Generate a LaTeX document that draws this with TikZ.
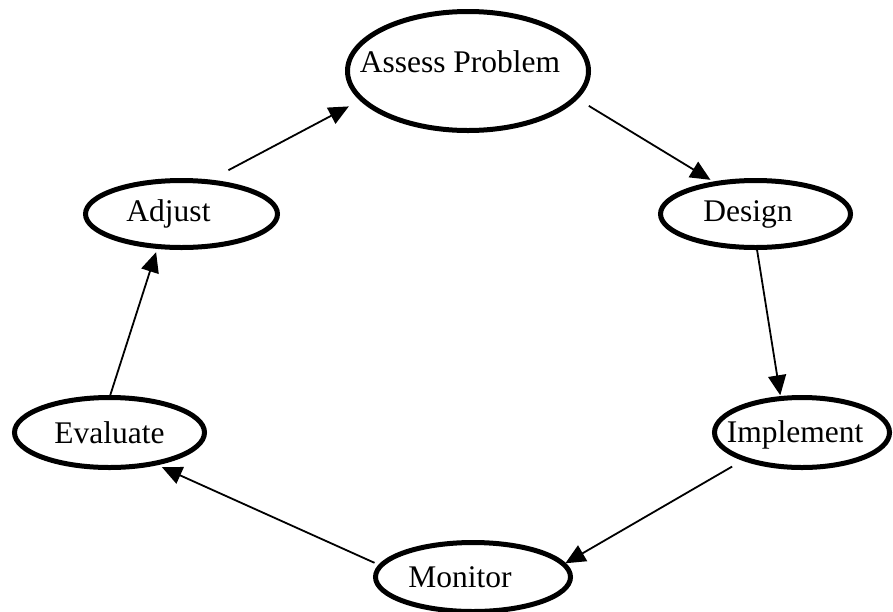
\documentclass[tikz,border=0pt]{standalone}
\usepackage{fontspec}
\setmainfont{Liberation Serif}
\usetikzlibrary{shapes.geometric,arrows.meta}
\begin{document}
\begin{tikzpicture}[x=1pt,y=-1pt,font=\fontsize{31.5}{38}\selectfont]
	\tikzstyle{stage}=[ellipse,draw=black,line width=5pt,inner sep=0pt,outer sep=0pt] % stage = one step of the cycle
	\tikzstyle{arr}=[-{Triangle[length=20pt,width=18pt]},line width=1.8pt] % arr = arrow to the next step
	\useasboundingbox (0,0) rectangle (893,611);
	\node[stage,minimum width=241pt,minimum height=119pt,label={[xshift=-8pt,yshift=9pt]center:Assess Problem}] (assess) at (468,71) {};
	\node[stage,minimum width=190pt,minimum height=67pt,label={[xshift=-7.5pt]center:Design}] (design) at (755.5,214) {};
	\node[stage,minimum width=175pt,minimum height=70pt,label={[xshift=-7pt,yshift=-2pt]center:Implement}] (implement) at (802,432.5) {};
	\node[stage,minimum width=195pt,minimum height=69pt,label={[xshift=-13pt]center:Monitor}] (monitor) at (473,577) {};
	\node[stage,minimum width=190pt,minimum height=70pt,label={center:Evaluate}] (evaluate) at (109.5,432.5) {};
	\node[stage,minimum width=192pt,minimum height=67pt,label={[xshift=-13pt]center:Adjust}] (adjust) at (181.5,214) {};
	% the cycle, clockwise
	\draw[arr,shorten <=15.5pt,shorten >=7pt] (assess.-14.7) -- (design.142.7);
	\draw[arr,shorten <=2.3pt,shorten >=3.3pt] (design.-88.1) -- (implement.122.2);
	\draw[arr,shorten <=14.9pt,shorten >=2pt] (implement.205.8) -- (monitor.8.25);
	\draw[arr,shorten <=7pt,shorten >=9pt] (monitor.173.2) -- (evaluate.-35.9);
	\draw[arr,shorten <=2.4pt,shorten >=6pt] (evaluate.90.3) -- (adjust.-126.8);
	\draw[arr,shorten <=24.5pt,shorten >=15pt] (adjust.52.7) -- (assess.195.2);
\end{tikzpicture}
\end{document}
